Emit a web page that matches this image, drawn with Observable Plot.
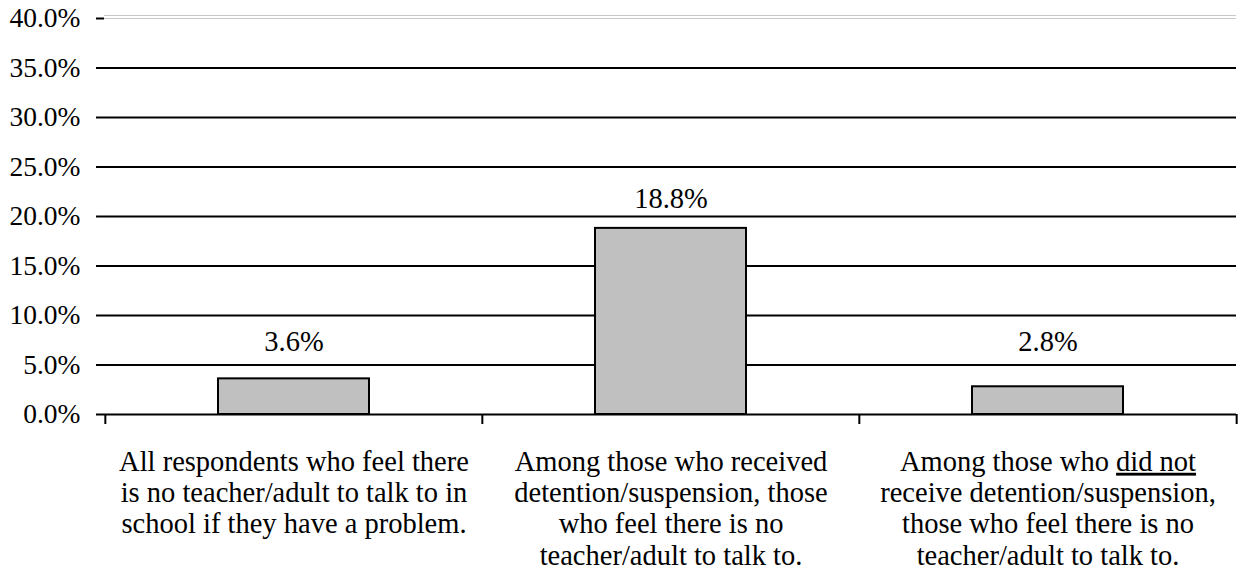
<!DOCTYPE html>
<html>
<head>
<meta charset="utf-8">
<script src="https://cdn.jsdelivr.net/npm/d3@7"></script>
<script src="https://cdn.jsdelivr.net/npm/@observablehq/plot@0.6"></script>
<style>
  html, body { margin: 0; padding: 0; background: #fff; }
  #chart svg { display: block; }
</style>
</head>
<body>
<div id="chart"></div>
<script>
const categories = ["all", "detention", "noDetention"];
const categoryLabels = [
  "All respondents who feel there\nis no teacher/adult to talk to in\nschool if they have a problem.",
  "Among those who received\ndetention/suspension, those\nwho feel there is no\nteacher/adult to talk to.",
  "Among those who did not\nreceive detention/suspension,\nthose who feel there is no\nteacher/adult to talk to."
];
const values = [3.6, 18.8, 2.8];
const yTicks = [0, 5, 10, 15, 20, 25, 30, 35, 40];

const data = categories.map((c, i) => ({cat: c, label: categoryLabels[i], value: values[i]}));

const W = 1240, H = 587;
const mL = 104, mR = 4, mT = 18, mB = 173;
const step = (W - mL - mR) / categories.length;
const font = "'Liberation Serif', 'Times New Roman', serif";

const chart = Plot.plot({
  width: W,
  height: H,
  marginLeft: mL,
  marginRight: mR,
  marginTop: mT,
  marginBottom: mB,
  style: {fontFamily: font, fontSize: "28px", color: "#000", background: "#fff"},
  x: {domain: categories, paddingInner: 0.6, paddingOuter: 0.3, axis: null},
  y: {type: "linear", domain: [0, 40], axis: null},
  marks: [
    // gridlines (below 40%)
    Plot.ruleY(yTicks.filter(t => t < 40), {stroke: "#000", strokeWidth: 2}),
    // top 40% double light line
    Plot.ruleY([40], {stroke: "#c8c8c8", strokeWidth: 1.2}),
    Plot.ruleY([40], {stroke: "#c8c8c8", strokeWidth: 1.2, dy: -3}),
    // y axis with ticks
    Plot.axisY({ticks: yTicks, tickSize: 8, tickPadding: 16, label: null, tickFormat: d => d.toFixed(1) + "%", fontSize: 27.5, stroke: "#000", strokeWidth: 2}),
    Plot.ruleX([0], {frameAnchor: "left", y1: 0, y2: 40, stroke: "#000", strokeWidth: 2.5, insetBottom: -10}),
    // category boundary ticks
    Plot.ruleX(categories, {x: d => d, y1: 0, y2: 0, stroke: "#000", strokeWidth: 2, dx: -step / 2, insetBottom: -10}),
    Plot.ruleX(categories.slice(-1), {x: d => d, y1: 0, y2: 0, stroke: "#000", strokeWidth: 2, dx: step / 2, insetBottom: -10}),
    // bars
    Plot.barY(data, {x: "cat", y: "value", fill: "#c0c0c0", stroke: "#000", strokeWidth: 2}),
    // value labels
    Plot.text(data, {x: "cat", y: d => Math.max(d.value + 3, 7.3), text: d => d.value.toFixed(1) + "%", fontSize: 28.5, fill: "#000"}),
    // category labels
    Plot.text(data, {x: "cat", y: 0, text: "label", lineAnchor: "top", dy: 34, lineHeight: 1.1, fontSize: 28.5, fill: "#000"})
  ]
});

// underline "did not"
chart.querySelectorAll("tspan").forEach(ts => {
  const t = ts.textContent;
  const idx = t.indexOf("did not");
  if (idx >= 0 && ts.children.length === 0) {
    const before = t.slice(0, idx);
    const after = t.slice(idx + 7);
    ts.textContent = "";
    ts.appendChild(document.createTextNode(before));
    const u = document.createElementNS("http://www.w3.org/2000/svg", "tspan");
    u.setAttribute("text-decoration", "underline");
    u.style.textDecoration = "underline";
    u.textContent = "did not";
    ts.appendChild(u);
    if (after) ts.appendChild(document.createTextNode(after));
  }
});

document.getElementById("chart").appendChild(chart);
</script>
</body>
</html>
